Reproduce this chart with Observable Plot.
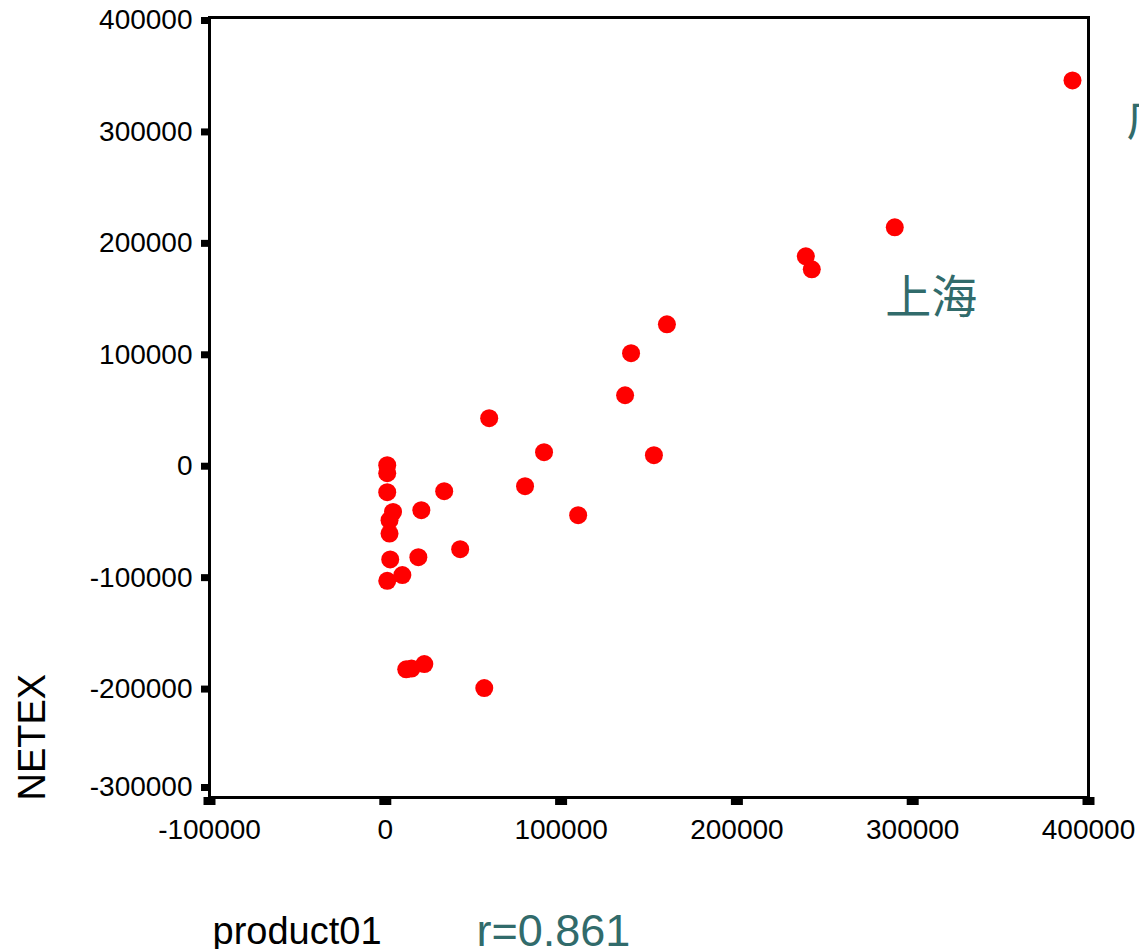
<!DOCTYPE html>
<html><head><meta charset="utf-8">
<script src="https://cdn.jsdelivr.net/npm/d3@7"></script>
<script src="https://cdn.jsdelivr.net/npm/@observablehq/plot@0.6"></script>
<style>body{margin:0;background:#fff;}</style>
</head><body><div id="chart"></div>
<script>
// Data (product01 vs NETEX)
const product01 = [390900, 289800, 239200, 242600, 160200, 139800, 136400, 152800, 90300, 59100,
  79500, 109700, 33500, 20500, 42600, 18800, 9700, 1100, 22200, 11900, 14900, 56300,
  1100, 1100, 1100, 4400, 2400, 2400, 2800];
const netex = [343500, 211700, 185700, 174000, 124700, 98700, 61000, 7200, 9900, 40400,
  -20600, -46600, -25100, -42200, -77100, -84300, -100400, -105500, -180300, -185000, -184300, -201800,
  -1800, -9000, -26000, -43700, -51100, -63100, -86400];
const xTicks = [-100000, 0, 100000, 200000, 300000, 400000];
const yTicksMain = [-200000, -100000, 0, 100000, 200000, 300000, 400000];
const yTicksLow = [-300000];
const labelNames = ["上海", "广东"];
const labelX = [284400, 421500];
const labelY = [147800, 307500];
const xTitle = "product01";
const yTitle = "NETEX";
const rText = "r=0.861";

const points = product01.map((x, i) => ({x, y: netex[i]}));
const labels = labelNames.map((t, i) => ({t, x: labelX[i], y: labelY[i]}));
const teal = "#316b6b";
const fmt = d => String(d);

const chart = Plot.plot({
  width: 1139, height: 949,
  marginLeft: 209, marginRight: 51, marginTop: 17, marginBottom: 152,
  style: {fontFamily: "'Liberation Sans', Arial, sans-serif", background: "#fff", color: "#000"},
  x: {domain: [-100000, 400000]},
  y: {domain: [-300000, 400000]},
  marks: [
    Plot.axisX({ticks: xTicks, tickSize: 8, strokeWidth: 12, tickPadding: 14, fontSize: 28, tickFormat: fmt, label: null}),
    Plot.axisY({ticks: yTicksMain, tickSize: 8, strokeWidth: 7, tickPadding: 9, fontSize: 28, tickFormat: fmt, label: null, dy: 3}),
    Plot.axisY({ticks: yTicksLow, tickSize: 8, strokeWidth: 7, tickPadding: 9, fontSize: 28, tickFormat: fmt, label: null, dy: -10}),
    Plot.frame({stroke: "#000", strokeWidth: 3}),
    Plot.dot(points, {x: "x", y: "y", r: 9, fill: "#ff0000", stroke: null}),
    Plot.text(labels, {x: "x", y: "y", text: "t", textAnchor: "start", fontSize: 46, fill: teal,
      fontFamily: "'Noto Sans CJK SC', sans-serif", clip: false}),
    Plot.text([xTitle], {text: d => d, frameAnchor: "bottom-left", textAnchor: "start", lineAnchor: "bottom",
      dx: 3, dy: 146, fontSize: 38, fill: "#000"}),
    Plot.text([rText], {text: d => d, frameAnchor: "bottom-left", textAnchor: "start", lineAnchor: "bottom",
      dx: 267, dy: 148, fontSize: 45, fill: teal}),
    Plot.text([yTitle], {text: d => d, frameAnchor: "bottom-left", textAnchor: "start", lineAnchor: "middle",
      rotate: -90, dx: -177, dy: 3, fontSize: 38, fill: "#000"})
  ]
});
document.getElementById("chart").appendChild(chart);
</script>
</body></html>
